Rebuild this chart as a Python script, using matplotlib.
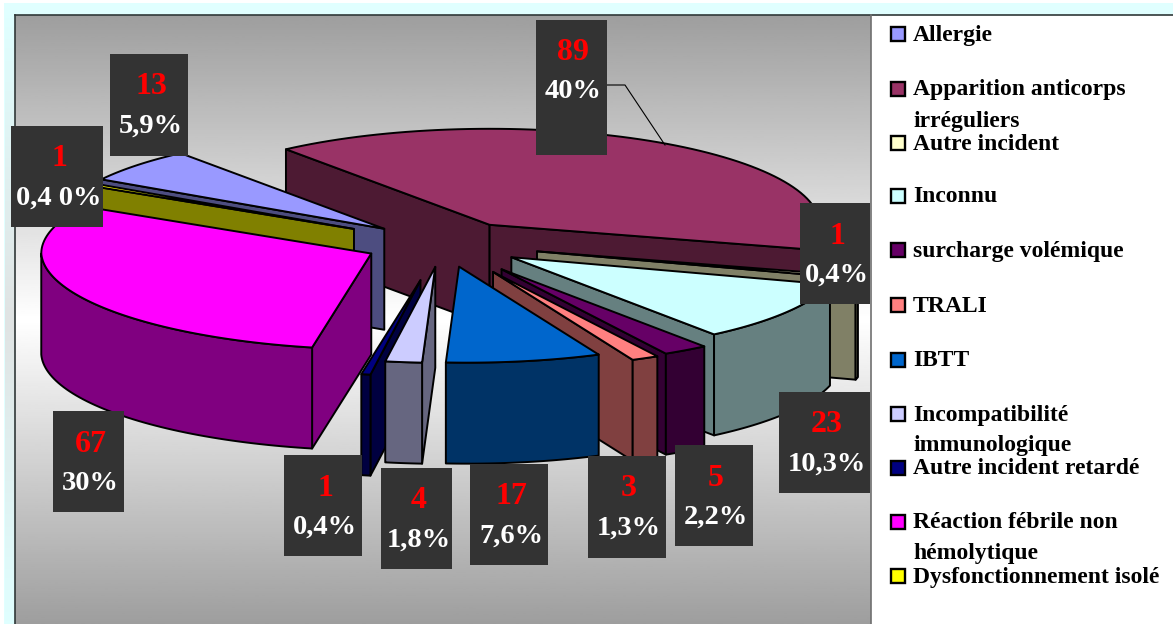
import numpy as np
import matplotlib
matplotlib.use('Agg')
import matplotlib.pyplot as plt
from matplotlib.colors import to_rgb
from matplotlib.patches import Polygon, Rectangle

categories = ['Allergie', 'Apparition anticorps\nirréguliers', 'Autre incident', 'Inconnu',
              'surcharge volémique', 'TRALI', 'IBTT', 'Incompatibilité\nimmunologique',
              'Autre incident retardé', 'Réaction fébrile non\nhémolytique', 'Dysfonctionnement isolé']
values = [13, 89, 1, 23, 5, 3, 17, 4, 1, 67, 1]
percents = ['5,9%', '40%', '0,4%', '10,3%', '2,2%', '1,3%', '7,6%', '1,8%', '0,4%', '30%', '0,4 0%']
colors = ['#9999FF', '#993366', '#FFFFCC', '#CCFFFF', '#660066', '#FF8080',
          '#0066CC', '#CCCCFF', '#000080', '#FF00FF', '#FFFF00']

# how far each slice is pulled out, 1 = the normal explosion
explode = [1, 1, 1.18, 1, 1.3, 1.35, 1, 1, 1.6, 1, 1.3]
# back to front
draw_order = [1, 0, 10, 2, 3, 4, 5, 6, 8, 7, 9]
# label boxes x0, y0, x1, y1 in pixels
boxes = [(110, 54, 188, 156), (536, 20, 607, 155), (800, 203, 870, 304), (779, 392, 870, 493),
         (675, 445, 753, 546), (588, 456, 666, 558), (470, 464, 548, 565), (381, 468, 452, 569),
         (284, 455, 362, 556), (53, 411, 124, 512), (11, 126, 103, 227)]
legend_y = [34, 89, 143, 196, 250, 305, 360, 414, 468, 522, 576]

first_angle = 301
cx, cy = 445, 244
rx, ry = 330, 96
ex, ey = 81, 23
depth = 101
near_shift = 8  # front of the ring sits a bit to the right in the original

plt.rcParams['font.family'] = ['Liberation Serif', 'DejaVu Serif']

fig = plt.figure(figsize=(11.73, 6.24), dpi=100, facecolor='white')
ax = fig.add_axes([0, 0, 1, 1])
ax.set_xlim(0, 1173)
ax.set_ylim(624, 0)
ax.axis('off')

# outer light cyan frame
ax.add_patch(Rectangle((4, 3), 1169, 621, fc='#E0FFFF', ec='none', zorder=0))
# left strip goes greyish around the middle
s = 1 - np.abs(np.linspace(-1, 1, 200))
strip = np.zeros((200, 1, 3))
strip[:, 0, 0] = 0.878 + 0.0 * s
strip[:, 0, 1] = 1 - 0.11 * s
strip[:, 0, 2] = 1 - 0.11 * s
ax.imshow(strip, extent=(5, 15, 624, 15), aspect='auto', zorder=0.5)
# grey gradient of the plot area
t = np.abs(np.linspace(-1, 1, 300)).reshape(-1, 1)
ax.imshow(1 - 0.38 * t, cmap='gray', vmin=0, vmax=1, extent=(15, 871, 624, 15),
          aspect='auto', zorder=1)
ax.set_xlim(0, 1173)
ax.set_ylim(624, 0)
ax.add_patch(Rectangle((871, 15), 302, 609, fc='white', ec='none', zorder=1))
ax.plot([15, 15], [624, 15], color='#303838', lw=1.2, zorder=2)
ax.plot([15, 1173], [15, 15], color='#303838', lw=1.2, zorder=2)
ax.plot([870.5, 870.5], [15, 624], color='#707070', lw=1.2, zorder=2)


def ell(apex, ang):
    a = np.radians(ang)
    return apex[0] + rx * np.sin(a) + near_shift * max(0, -np.cos(a)), apex[1] - ry * np.cos(a)


def face_visible(a, b, c):
    # side wall shows if the rest of the top face lies above that edge
    if abs(b[0] - a[0]) < 1e-6:
        return False
    return c[1] < a[1] + (c[0] - a[0]) * (b[1] - a[1]) / (b[0] - a[0])


def wall(pts, col, z):
    pts = list(pts)
    low = [(x, y + depth) for x, y in pts[::-1]]
    ax.add_patch(Polygon(pts + low, closed=True, fc=col, ec='black', lw=1.4, joinstyle='round', zorder=z))


edges = first_angle + np.concatenate([[0], np.cumsum(values)]) * 360 / sum(values)

z = 3
for i in draw_order:
    a0, a1 = edges[i], edges[i + 1]
    mid = np.radians((a0 + a1) / 2)
    apex = (cx + explode[i] * ex * np.sin(mid), cy - explode[i] * ey * np.cos(mid))
    p0, p1 = ell(apex, a0), ell(apex, a1)
    dark = tuple(v * 0.5 for v in to_rgb(colors[i]))

    if face_visible(apex, p0, p1):
        wall([apex, p0], dark, z)
    if face_visible(apex, p1, p0):
        wall([apex, p1], dark, z)
    # outer wall, only the front half of the ring
    lo, hi = max(a0 % 360, 90), min(a1 % 360 if a1 % 360 > a0 % 360 else 360, 270)
    if hi > lo:
        wall([ell(apex, v) for v in np.linspace(lo, hi, 60)], dark, z)
    arc = [ell(apex, v) for v in np.linspace(a0, a1, 80)]
    ax.add_patch(Polygon([apex] + arc, closed=True, fc=colors[i], ec='black', lw=1.4,
                         joinstyle='round', zorder=z))
    z += 1

# leader line of the biggest slice
ax.plot([607, 625, 665], [85, 85, 145], color='black', lw=0.8, zorder=30)

for val, pct, (x0, y0, x1, y1) in zip(values, percents, boxes):
    ax.add_patch(Rectangle((x0, y0), x1 - x0, y1 - y0, fc='#333333', ec='none', zorder=31))
    xm = (x0 + x1) / 2
    ax.text(xm + 2, y0 + 33, str(val), color='red', fontsize=23, fontweight='bold',
            ha='center', va='center', zorder=32)
    ax.text(xm + 2, y0 + 72, pct, color='white', fontsize=20.5, fontweight='bold',
            ha='center', va='center', zorder=32)

for name, col, y in zip(categories, colors, legend_y):
    ax.add_patch(Rectangle((891, y - 7), 14, 14, fc=col, ec='black', lw=1.7, zorder=5))
    lines = name.split('\n')
    for k, line in enumerate(lines):
        ax.text(913, y + k * 31 + 1, line, color='black', fontsize=17, fontweight='bold',
                ha='left', va='center', zorder=6)

fig.savefig('out.png', dpi=100, facecolor='white')
